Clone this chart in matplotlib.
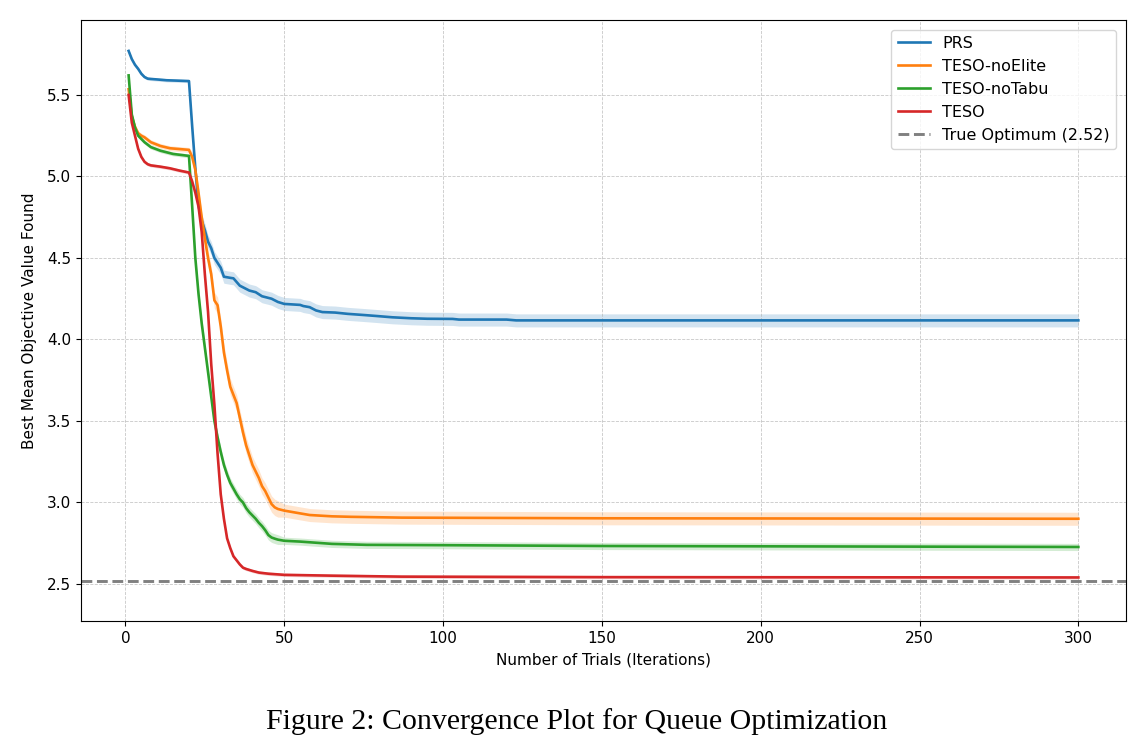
import numpy as np
import matplotlib
matplotlib.use("Agg")
import matplotlib.pyplot as plt

# mean curves (sparse knots, joined by straight lines)
prs_x = [1, 2, 3, 4, 5, 6, 7, 8, 10, 13, 16, 20, 21, 22, 23, 24, 25, 26, 27, 28,
         29, 30, 31, 33, 34, 36, 38, 39, 41, 43, 46, 48, 50, 55, 56, 58, 60, 62, 66, 70,
         75, 79, 84, 90, 95, 103, 105, 120, 123, 300]
prs_y = [5.77, 5.72, 5.685, 5.66, 5.63, 5.61, 5.60, 5.598, 5.595, 5.59,
         5.588, 5.585, 5.31, 5.05, 4.82, 4.73, 4.67, 4.60, 4.56, 4.50,
         4.47, 4.44, 4.385, 4.378, 4.375, 4.33, 4.31, 4.30, 4.29, 4.265,
         4.25, 4.23, 4.218, 4.212, 4.205, 4.198, 4.178, 4.168, 4.165, 4.157,
         4.15, 4.144, 4.136, 4.13, 4.127, 4.126, 4.122, 4.122, 4.117, 4.117]
prs_sd = [0.01] * 12 + [0.02, 0.03] + [0.04] * 36

ne_x = [1, 2, 3, 4, 5, 6, 7, 8, 11, 14, 17, 20, 21, 22, 23, 24, 25, 26, 27, 28,
        29, 30, 31, 32, 33, 34, 35, 36, 37, 38, 39, 40, 41, 42, 43, 44, 45, 46, 47, 48,
        50, 55, 58, 65, 71, 87, 150, 300]
ne_y = [5.535, 5.37, 5.305, 5.265, 5.25, 5.24, 5.225, 5.21,
        5.187, 5.173, 5.168, 5.163,
        5.12, 5.04, 4.9, 4.75, 4.62, 4.50, 4.40, 4.24, 4.21, 4.08,
        3.92, 3.81, 3.71, 3.66, 3.61, 3.52, 3.43, 3.35, 3.29, 3.23,
        3.19, 3.15, 3.10, 3.07, 3.03, 2.99, 2.97, 2.96,
        2.95, 2.933, 2.923, 2.915, 2.912, 2.907, 2.903, 2.90]
ne_sd = [0.015] * 12 + [0.03] * 4 + [0.05] * 24 + [0.04] * 8

nt_x = [1, 2, 3, 4, 5, 6, 7, 8, 11, 15, 20, 21, 22, 23, 24, 25, 26, 27, 28, 29,
        30, 31, 32, 33, 34, 35, 36, 37, 38, 39, 40, 41, 42, 43, 44, 45, 46, 47, 48,
        50, 55, 65, 76, 100, 150, 300]
nt_y = [5.62, 5.38, 5.30, 5.25, 5.23, 5.21, 5.195, 5.18,
        5.158, 5.138, 5.126,
        4.82, 4.5, 4.28, 4.1, 3.95, 3.8, 3.65, 3.5, 3.4, 3.31,
        3.23, 3.17, 3.12, 3.085, 3.05, 3.02, 3.0, 2.965, 2.94, 2.92,
        2.9, 2.875, 2.855, 2.83, 2.80, 2.785, 2.778, 2.772,
        2.765, 2.76, 2.746, 2.74, 2.738, 2.733, 2.727]
nt_sd = [0.012] * 11 + [0.03] * 28 + [0.022] * 7

te_x = [1, 2, 3, 4, 5, 6, 7, 8, 11, 14, 17, 20, 21, 22, 23, 24, 25, 26, 27, 28,
        29, 30, 31, 32, 33, 34, 35, 36, 37, 38, 40, 42, 45, 50, 65, 87, 150, 300]
te_y = [5.5, 5.33, 5.25, 5.17, 5.12, 5.09, 5.075, 5.068,
        5.06, 5.05, 5.036, 5.024,
        4.97, 4.9, 4.815, 4.66, 4.4, 4.17, 3.85, 3.6, 3.3, 3.05,
        2.9, 2.78, 2.72, 2.67, 2.645, 2.62, 2.60, 2.592,
        2.58, 2.57, 2.563, 2.556, 2.551, 2.545, 2.542, 2.54]
te_sd = [0.01] * 38

true_opt = 2.52

series = [
    ("PRS", prs_x, prs_y, prs_sd, "tab:blue"),
    ("TESO-noElite", ne_x, ne_y, ne_sd, "tab:orange"),
    ("TESO-noTabu", nt_x, nt_y, nt_sd, "tab:green"),
    ("TESO", te_x, te_y, te_sd, "tab:red"),
]

fig = plt.figure(figsize=(11.47, 7.56), dpi=100)
ax = fig.add_axes([0.0706, 0.1786, 0.9111, 0.795])

for name, xs, ys, sd, col in series:
    xs = np.array(xs)
    ys = np.array(ys)
    sd = np.array(sd)
    ax.plot(xs, ys, color=col, lw=1.9, label=name)
    ax.fill_between(xs, ys - sd, ys + sd, color=col, alpha=0.2, lw=0)

ax.axhline(true_opt, color="gray", ls="--", lw=2.1, label=f"True Optimum ({true_opt:.2f})")

ax.set_xlim(-14, 315)
ax.set_ylim(2.273, 5.96)
ax.set_xticks([0, 50, 100, 150, 200, 250, 300])
ax.set_yticks([2.5, 3.0, 3.5, 4.0, 4.5, 5.0, 5.5])
ax.tick_params(labelsize=11)
ax.grid(True, linestyle="--", linewidth=0.6, alpha=0.7)
ax.set_xlabel("Number of Trials (Iterations)", fontsize=11, labelpad=5)
ax.set_ylabel("Best Mean Objective Value Found", fontsize=11, labelpad=7)
ax.legend(loc="upper right", fontsize=11.5, borderaxespad=0.6)

fig.text(0.503, 0.045, "Figure 2: Convergence Plot for Queue Optimization",
         ha="center", va="center", fontsize=21.5, family="Liberation Serif")

fig.savefig("out.png", dpi=100)
